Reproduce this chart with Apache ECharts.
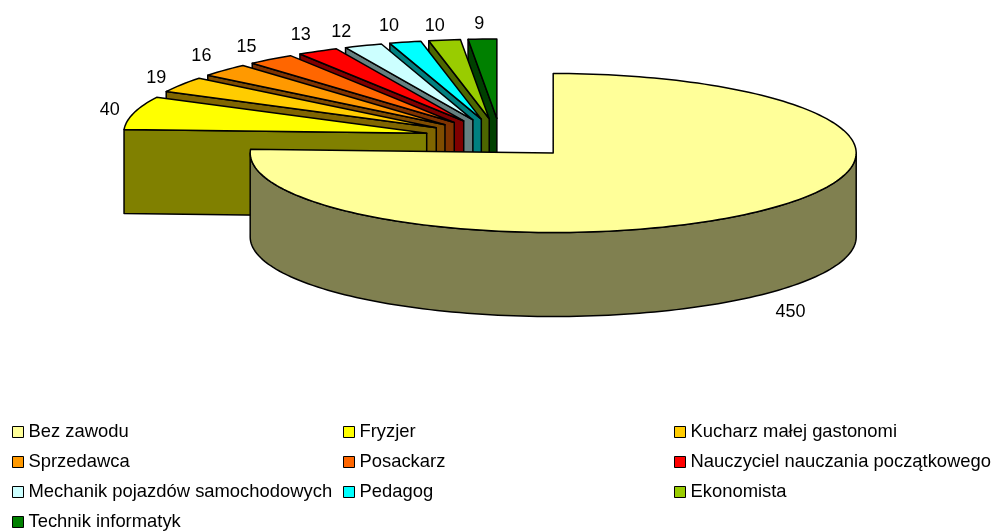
<!DOCTYPE html>
<html>
<head>
<meta charset="utf-8">
<title>Zawody</title>
<script src="https://cdn.jsdelivr.net/npm/echarts@6/dist/echarts.min.js"></script>
<style>
    html, body { margin: 0; padding: 0; background: #fff; }
    #main { width: 997px; height: 531px; }
</style>
</head>
<body>
<div id="main"></div>
<script>
    const categories = ['Bez zawodu', 'Fryzjer', 'Kucharz małej gastonomi', 'Sprzedawca', 'Posackarz',
        'Nauczyciel nauczania początkowego', 'Mechanik pojazdów samochodowych', 'Pedagog', 'Ekonomista', 'Technik informatyk'];
    const values = [450, 40, 19, 16, 15, 13, 12, 10, 10, 9];
    const topColors = ['#ffff99', '#ffff00', '#ffcc00', '#ff9900', '#ff6600', '#ff0000', '#ccffff', '#00ffff', '#99cc00', '#008000'];
    const sideColors = ['#808050', '#808000', '#806600', '#804d00', '#803300', '#800000', '#668080', '#008080', '#4d6600', '#004000'];

    // legend columns, same order as the original sheet
    const legendCol1 = ['Bez zawodu', 'Sprzedawca', 'Mechanik pojazdów samochodowych', 'Technik informatyk'];
    const legendCol2 = ['Fryzjer', 'Posackarz', 'Pedagog'];
    const legendCol3 = ['Kucharz małej gastonomi', 'Nauczyciel nauczania początkowego', 'Ekonomista'];

    // pie geometry
    const cx = 500.5, cy = 138.5, rx = 303, ry = 79.5, depth = 84, explode = 0.252;
    const total = values.reduce((a, b) => a + b, 0);
    const font = '18px "Liberation Sans", Arial, sans-serif';
    // hand nudges for the value labels, the sheet does not place them evenly
    const labelNudgeX = [11, 0, -4, -5, -9, -5, -13, -10, -6, -2];
    const labelNudgeY = [6, 1, 2, -3, 0, -2, 1, -1, 2, 1];

    function rim(ox, oy, deg, down) {
        const a = deg * Math.PI / 180;
        return [ox + rx * Math.sin(a), oy - ry * Math.cos(a) + (down || 0)];
    }

    function arc(ox, oy, from, to, down) {
        const pts = [];
        const steps = Math.max(2, Math.ceil((to - from) / 1.5));
        for (let i = 0; i <= steps; i++) {
            pts.push(rim(ox, oy, from + (to - from) * i / steps, down));
        }
        return pts;
    }

    function face(points, fill) {
        return {
            type: 'polygon',
            shape: {points: points},
            style: {fill: fill, stroke: '#000', lineWidth: 1.5, lineJoin: 'round'}
        };
    }

    function renderSlice(params, api) {
        const i = params.seriesIndex;
        const value = api.value(0);
        const start = values.slice(0, i).reduce((a, b) => a + b, 0) / total * 360;
        const end = start + value / total * 360;
        const mid = (start + end) / 2 * Math.PI / 180;
        // every slice is pulled out along its bisector
        const ox = cx + rx * explode * Math.sin(mid);
        const oy = cy - ry * explode * Math.cos(mid);
        const children = [];

        if (start < 270 && end > 90) {
            // outer wall, only the front half can be seen
            const from = Math.max(start, 90), to = Math.min(end, 270);
            children.push(face(arc(ox, oy, from, to).concat(arc(ox, oy, from, to, depth).reverse()), sideColors[i]));
        }
        if (start >= 180) {
            // cut face on the leading edge
            const p = rim(ox, oy, start);
            children.push(face([[ox, oy], p, [p[0], p[1] + depth], [ox, oy + depth]], sideColors[i]));
        }
        children.push(face([[ox, oy]].concat(arc(ox, oy, start, end)), topColors[i]));

        const r = rim(ox, oy, (start + end) / 2);
        const front = Math.cos(mid) < 0;
        children.push({
            type: 'text',
            z2: 50,
            style: {
                text: String(value),
                x: r[0] + 25 * Math.sin(mid) + labelNudgeX[i],
                y: r[1] - 16 * Math.cos(mid) + (front ? depth : 0) + labelNudgeY[i],
                textAlign: 'center',
                textVerticalAlign: 'middle',
                fill: '#000',
                font: font
            }
        });
        return {type: 'group', children: children};
    }

    function makeLegend(left, names) {
        return {
            left: left,
            top: 423,
            orient: 'vertical',
            data: names,
            icon: 'rect',
            itemWidth: 11,
            itemHeight: 11,
            itemGap: 12,
            padding: 0,
            selectedMode: false,
            itemStyle: {borderColor: '#000', borderWidth: 1},
            textStyle: {color: '#000', fontFamily: '"Liberation Sans", Arial, sans-serif', fontSize: 18.4, lineHeight: 18, padding: [0, 0, 0, 0]}
        };
    }

    const chart = echarts.init(document.getElementById('main'));
    chart.setOption({
        animation: false,
        backgroundColor: '#fff',
        legend: [makeLegend(12, legendCol1), makeLegend(343, legendCol2), makeLegend(674, legendCol3)],
        series: categories.map((name, i) => ({
            type: 'custom',
            name: name,
            coordinateSystem: 'none',
            // back slices first, the big one last
            z: i === 0 ? 20 : 12 - i,
            silent: true,
            itemStyle: {color: topColors[i]},
            renderItem: renderSlice,
            data: [[values[i]]]
        }))
    });
</script>
</body>
</html>
